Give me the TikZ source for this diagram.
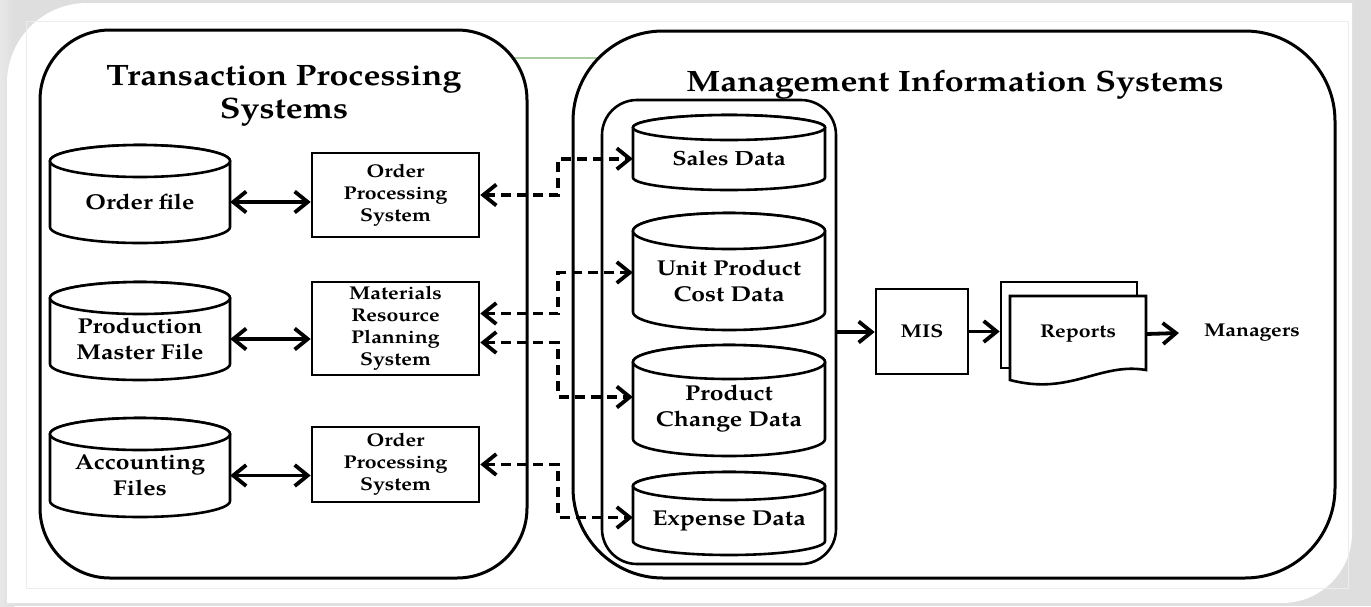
\documentclass[tikz,border=0pt]{standalone}
\usepackage{fontspec}
\setmainfont{TeX Gyre Pagella}[FakeStretch=1.15]
\usetikzlibrary{arrows.meta,calc}
\definecolor{pagegray}{RGB}{222,222,222}
\definecolor{faintline}{RGB}{236,236,236}
\definecolor{greenline}{RGB}{168,205,160}
\newcommand{\titlefont}{\fontsize{29.5}{33}\selectfont\bfseries}
\newcommand{\boxfont}{\fontsize{18.5}{22}\selectfont\bfseries}
\newcommand{\cylfont}{\fontsize{21.5}{26}\selectfont\bfseries}
\newcommand{\cylnode}[7]{%
  \filldraw[cylline] (#2-#4,#3-#5+#6) -- (#2-#4,#3+#5-#6)
    arc[start angle=180,end angle=360,x radius=#4pt,y radius=#6pt]
    -- (#2+#4,#3-#5+#6)
    arc[start angle=0,end angle=180,x radius=#4pt,y radius=#6pt] -- cycle;
  \draw[cylline] (#2,#3-#5+#6) ellipse[x radius=#4pt,y radius=#6pt];
  \node[cyltext,minimum width=2*#4pt] (#1) at (#2,#3+#6/2) {#7};
}
\tikzset{
  tpsframe/.style={draw,line width=3pt,fill=white,rounded corners=70pt,inner sep=0pt},
  misframe/.style={draw,line width=3pt,fill=white,rounded corners=90pt,inner sep=0pt},
  innerframe/.style={draw,line width=2.6pt,fill=white,rounded corners=35pt,inner sep=0pt},
  procbox/.style={draw,line width=2.6pt,fill=white,inner sep=0pt,align=center,font=\boxfont},
  cyltext/.style={inner sep=0pt,align=center,font=\cylfont},
  cylline/.style={draw,line width=2.6pt,fill=white},
  titletext/.style={inner sep=0pt,align=center,font=\titlefont},
  plaintext/.style={inner sep=0pt,align=center,font=\boxfont},
  barb/.tip={Straight Barb[length=13pt,width=21pt]},
  dbl/.style={line width=3.8pt,barb-barb},
  dsh/.style={line width=3.8pt,dash pattern=on 10pt off 6pt,barb-barb},
  arr/.style={line width=3.8pt,-barb},
}
\begin{document}
\begin{tikzpicture}[x=1pt,y=-1pt]
\useasboundingbox (0,0) rectangle (1371,606);
% page background
\fill[pagegray] (0,0) rectangle (1371,606);
\shade[left color=pagegray!80!black!30, right color=pagegray] (0,0) rectangle (14,606);
\fill[white] (7,603) -- (7,83) arc[start angle=180,end angle=90,radius=80pt]
  -- (1352,3) -- (1352,533) arc[start angle=0,end angle=-90,radius=70pt] -- cycle;
\draw[faintline,line width=0.8pt] (26,21) rectangle (1348,588);
\draw[greenline,line width=1.5pt] (505,58) -- (600,58);

% containers
\node[tpsframe,minimum width=487pt,minimum height=548pt] (tps) at (283.5,304) {};
\node[misframe,minimum width=762pt,minimum height=547pt] (misarea) at (954,304.5) {};
\node[innerframe,minimum width=234pt,minimum height=464pt] (inner) at (719,332) {};

\node[titletext] (tpstitle) at (284,96) {Transaction Processing\\Systems};
\node[titletext] (mistitle) at (955,85) {Management Information Systems};

% TPS side
\cylnode{ofile}{140}{194}{90}{49}{16}{Order file}
\cylnode{pmf}{140}{331}{90}{49}{16}{Production\\Master File}
\cylnode{acc}{140}{467.5}{90}{49.5}{16}{Accounting\\Files}

\node[procbox,minimum width=167pt,minimum height=84pt] (ops1) at (395.5,195) {Order\\Processing\\System};
\node[procbox,minimum width=167pt,minimum height=93pt] (mrp) at (395.5,328.5) {Materials\\Resource\\Planning\\System};
\node[procbox,minimum width=167pt,minimum height=75pt] (ops2) at (395.5,464.5) {Order\\Processing\\System};

% MIS data stores
\cylnode{sales}{729}{152.5}{96}{37.5}{12.5}{\fontsize{20.5}{26}\selectfont Sales Data}
\cylnode{upc}{729}{271.5}{96}{58.5}{18}{Unit Product\\Cost Data}
\cylnode{pcd}{729}{400.5}{96}{55.5}{17}{Product\\Change Data}
\cylnode{exp}{729}{513.5}{96}{41.5}{14}{Expense Data}

\node[procbox,minimum width=92pt,minimum height=85pt] (mis) at (922,331.5) {MIS};
\node[draw,line width=2.6pt,fill=white,minimum width=136pt,minimum height=86pt,inner sep=0pt] (repback) at (1069,325) {};
\filldraw[line width=2.6pt,fill=white] (1010,380) -- (1010,296) -- (1146,296) -- (1146,370)
  .. controls (1100,362) and (1070,396) .. (1010,380) -- cycle;
\node[plaintext,minimum width=136pt] (rep) at (1078,334) {Reports};
\node[plaintext] (mgr) at (1252,333) {Managers};

% connectors
\draw[dbl] (ofile.east) -- (ofile.east -| ops1.west);
\draw[dbl] (pmf.east) -- (pmf.east -| mrp.west);
\draw[dbl] (acc.east) -- (acc.east -| ops2.west);

\draw[dsh] (ops1.east) -- ++(78,0) |- (sales.west);
\draw[dsh] ([yshift=15pt]mrp.east) -- ++(78,0) |- ([yshift=8pt]upc.west);
\draw[dsh] ([yshift=-14pt]mrp.east) -- ++(78,0) |- ([yshift=12pt]pcd.west);
\draw[dsh] (ops2.east) -- ++(78,0) |- ([yshift=3pt]exp.west);

\draw[arr] (inner.east) -- (inner.east -| mis.west);
\draw[arr] (mis.east) -- (mis.east -| repback.west);
\draw[arr] (rep.east) -- ([xshift=-25pt]mgr.west);
\end{tikzpicture}
\end{document}
